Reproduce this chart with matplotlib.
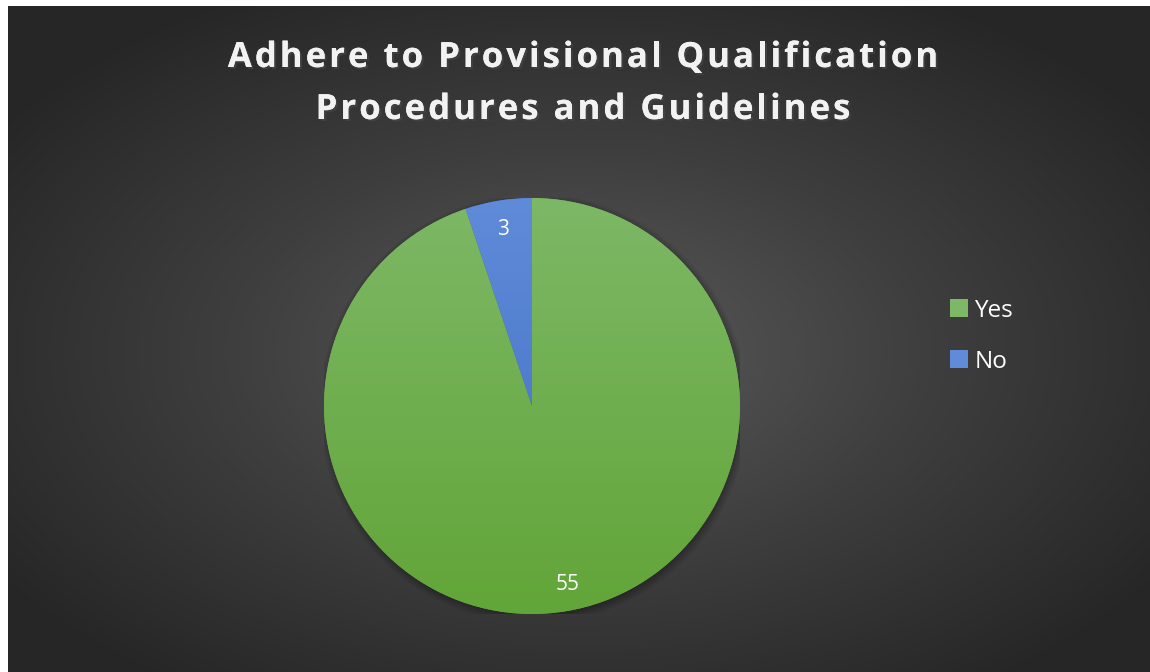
import numpy as np
import matplotlib
matplotlib.use("Agg")
import matplotlib.pyplot as plt
import matplotlib.patheffects as pe
from matplotlib.colors import LinearSegmentedColormap
from matplotlib.patches import Circle, Patch
from matplotlib.font_manager import FontProperties, findfont
from matplotlib.ft2font import FT2Font

# Chart data
labels = ["Yes", "No"]
counts = [55, 3]
title_lines = ["Adhere to Provisional Qualification", "Procedures and Guidelines"]

# gradient colours for each slice (top, bottom)
slice_colors = [("#7db866", "#62a538"), ("#5f8bd9", "#3f6cc0")]

W, H = 1150, 672
DPI = 100
fig = plt.figure(figsize=(W / DPI, H / DPI), dpi=DPI)
fig.patch.set_facecolor("white")

# Background panel with radial gradient (white strip left and top)
bg = fig.add_axes([8 / W, 0, 1 - 8 / W, 1 - 6 / H])
bg.set_axis_off()
xx, yy = np.meshgrid(np.linspace(0, 1, 600), np.linspace(0, 1, 350))
d = np.sqrt(((xx - 0.5) / 0.62) ** 2 + ((yy - 0.52) / 0.62) ** 2)
d = np.clip(d, 0, 1)
bg_cmap = LinearSegmentedColormap.from_list("bg", ["#5a5a5a", "#3e3e3e", "#262626"])
bg.imshow(d, cmap=bg_cmap, extent=[0, 1, 0, 1], origin="upper", aspect="auto",
          vmin=0, vmax=1, interpolation="bilinear")
bg.set_xlim(0, 1)
bg.set_ylim(0, 1)

# Pie axes: centre (532, 406) px, radius 208 px
R = 208
ax = fig.add_axes([(532 - R) / W, (H - 406 - R) / H, 2 * R / W, 2 * R / H])
ax.set_axis_off()
ax.set_facecolor("none")

# soft shadow under the pie
for i, a in enumerate([0.06, 0.06, 0.07, 0.08]):
    ax.add_patch(Circle((0.008, -0.012), 1.03 - i * 0.01, color="black", alpha=a,
                        zorder=0, lw=0))

wedges, texts, autotexts = ax.pie(
    counts, startangle=90, counterclock=False, radius=1,
    colors=[c[1] for c in slice_colors],
    autopct=lambda p: "{:.0f}".format(p * sum(counts) / 100),
    pctdistance=0.86,
    wedgeprops=dict(linewidth=0),
    textprops=dict(color="white", fontsize=15, family="Open Sans"),
)
grad = np.linspace(0, 1, 256).reshape(-1, 1)
for w, (ctop, cbot) in zip(wedges, slice_colors):
    cmap = LinearSegmentedColormap.from_list("s", [ctop, cbot])
    im = ax.imshow(grad, cmap=cmap, extent=[-1, 1, -1, 1], origin="upper",
                   aspect="auto", zorder=w.get_zorder() + 0.1)
    im.set_clip_path(w)
for t in autotexts:
    t.set_zorder(5)
autotexts[0].set_position((0.17, -0.86))
ax.set_xlim(-1, 1)
ax.set_ylim(-1, 1)

# Title, drawn letter by letter to get the wide letter spacing
tsize = 25
tprop = FontProperties(family="Open Sans", weight="bold", size=tsize)
font = FT2Font(findfont(tprop))
font.set_size(tsize, DPI)
track = 3.0  # extra px between letters
shadow = [pe.withSimplePatchShadow(offset=(1.5, -1.5), alpha=0.6), pe.Normal()]


def advances(s):
    return [font.load_char(ord(c)).linearHoriAdvance / 65536 for c in s]


for line, base_y in zip(title_lines, [67, 119]):
    adv = advances(line)
    total = sum(adv) + track * (len(line) - 1)
    x = 583 - total / 2
    for c, a in zip(line, adv):
        if c != " ":
            fig.text(x / W, 1 - base_y / H, c, ha="left", va="baseline",
                     color="#f2f2f2", fontproperties=tprop, path_effects=shadow)
        x += a + track

# Legend
handles = [Patch(facecolor=c[0], edgecolor="none") for c in slice_colors]
leg = fig.legend(handles, labels, loc="upper left",
                 bbox_to_anchor=(928 / W, 1 - 277 / H), frameon=False,
                 labelcolor="white", handlelength=0.75,
                 handleheight=0.75, handletextpad=0.25, labelspacing=1.1,
                 prop=dict(family="Open Sans", size=17.5))

fig.savefig("out.png", dpi=DPI, facecolor=fig.get_facecolor())
